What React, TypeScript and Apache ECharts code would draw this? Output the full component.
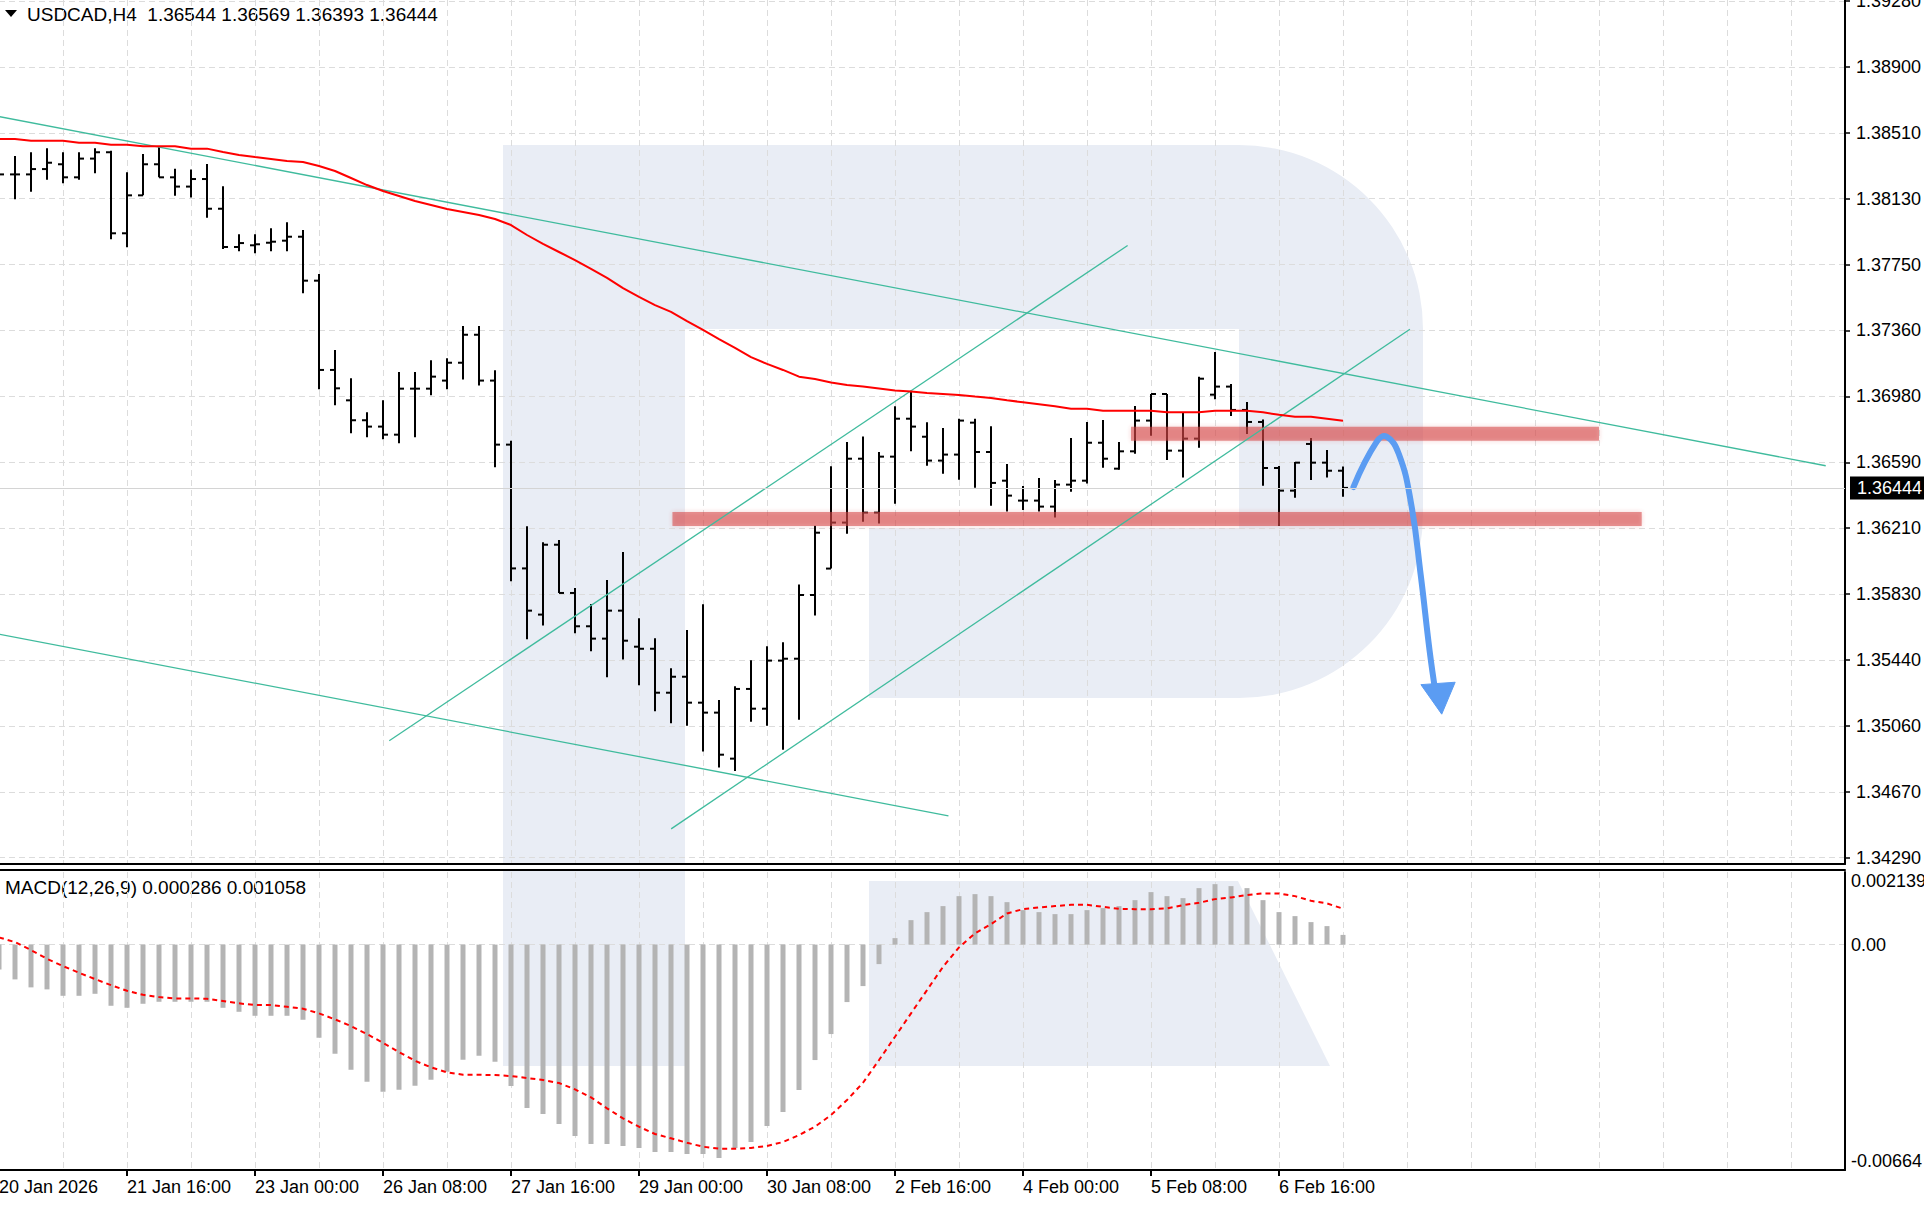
import React, { useEffect, useRef } from 'react';
import * as echarts from 'echarts';

// ---------------- data ----------------
const SYMBOL = 'USDCAD,H4';

const OPEN = [
  1.38300, 1.38270, 1.38270, 1.38301, 1.38329, 1.38253, 1.38362, 1.38399, 1.37927, 1.38148,
  1.38329, 1.38253, 1.38199, 1.38243, 1.38070, 1.37847, 1.37857, 1.37872, 1.37884, 1.37907,
  1.37651, 1.37131, 1.36954, 1.36838, 1.36801, 1.36754, 1.37022, 1.37022, 1.37069, 1.37173,
  1.37336, 1.37069, 1.36696, 1.35975, 1.35706, 1.36113, 1.35832, 1.35638, 1.35566, 1.35729,
  1.35519, 1.35507, 1.35251, 1.35344, 1.35193, 1.35135, 1.34867, 1.35273, 1.35158, 1.35438,
  1.35449, 1.35820, 1.35974, 1.36242, 1.36614, 1.36300, 1.36626, 1.36847, 1.36742, 1.36603,
  1.36638, 1.36824, 1.36653, 1.36486, 1.36370, 1.36370, 1.36335, 1.36463, 1.36486, 1.36707,
  1.36556, 1.36657, 1.36836, 1.36991, 1.36661, 1.36731, 1.36987, 1.37034, 1.36898, 1.36828,
  1.36560, 1.36428, 1.36700, 1.36591, 1.36544,
];
const HIGH = [
  1.38340, 1.38377, 1.38399, 1.38422, 1.38399, 1.38399, 1.38422, 1.38408, 1.38282, 1.38389,
  1.38432, 1.38303, 1.38298, 1.38331, 1.38201, 1.37921, 1.37921, 1.37956, 1.37991, 1.37946,
  1.37690, 1.37247, 1.37082, 1.36884, 1.36954, 1.37119, 1.37119, 1.37187, 1.37199, 1.37387,
  1.37387, 1.37129, 1.36719, 1.36220, 1.36127, 1.36141, 1.35861, 1.35768, 1.35908, 1.36071,
  1.35684, 1.35568, 1.35393, 1.35616, 1.35766, 1.35209, 1.35288, 1.35440, 1.35521, 1.35545,
  1.35882, 1.36224, 1.36570, 1.36711, 1.36744, 1.36653, 1.36919, 1.37010, 1.36826, 1.36793,
  1.36847, 1.36847, 1.36803, 1.36583, 1.36455, 1.36502, 1.36490, 1.36735, 1.36828, 1.36839,
  1.36711, 1.36921, 1.36991, 1.36991, 1.36886, 1.37092, 1.37236, 1.37049, 1.36944, 1.36843,
  1.36572, 1.36595, 1.36735, 1.36665, 1.36569,
];
const LOW = [
  1.38240, 1.38125, 1.38169, 1.38239, 1.38218, 1.38239, 1.38276, 1.37892, 1.37845, 1.38148,
  1.38253, 1.38146, 1.38136, 1.38018, 1.37835, 1.37822, 1.37810, 1.37822, 1.37822, 1.37577,
  1.37018, 1.36925, 1.36762, 1.36739, 1.36727, 1.36704, 1.36739, 1.36983, 1.37018, 1.37076,
  1.37041, 1.36564, 1.35900, 1.35562, 1.35643, 1.35832, 1.35597, 1.35492, 1.35341, 1.35445,
  1.35294, 1.35143, 1.35073, 1.35059, 1.34908, 1.34816, 1.34795, 1.35082, 1.35059, 1.34919,
  1.35094, 1.35700, 1.35974, 1.36177, 1.36247, 1.36236, 1.36352, 1.36657, 1.36573, 1.36527,
  1.36492, 1.36445, 1.36340, 1.36306, 1.36315, 1.36306, 1.36271, 1.36422, 1.36469, 1.36562,
  1.36550, 1.36643, 1.36748, 1.36606, 1.36504, 1.36678, 1.36960, 1.36863, 1.36758, 1.36457,
  1.36222, 1.36387, 1.36490, 1.36504, 1.36393,
];
const CLOSE = [
  1.38270, 1.38270, 1.38301, 1.38338, 1.38253, 1.38362, 1.38399, 1.37927, 1.38148, 1.38329,
  1.38253, 1.38199, 1.38243, 1.38070, 1.37847, 1.37870, 1.37863, 1.37878, 1.37907, 1.37651,
  1.37131, 1.37024, 1.36838, 1.36801, 1.36754, 1.37022, 1.37022, 1.37092, 1.37173, 1.37336,
  1.37069, 1.36696, 1.35975, 1.35729, 1.36113, 1.35832, 1.35638, 1.35566, 1.35729, 1.35554,
  1.35507, 1.35251, 1.35344, 1.35193, 1.35135, 1.34890, 1.35273, 1.35158, 1.35438, 1.35449,
  1.35820, 1.36183, 1.36242, 1.36614, 1.36300, 1.36626, 1.36847, 1.36801, 1.36603, 1.36638,
  1.36836, 1.36653, 1.36473, 1.36399, 1.36370, 1.36335, 1.36463, 1.36486, 1.36707, 1.36614,
  1.36657, 1.36836, 1.36991, 1.36661, 1.36731, 1.37080, 1.37034, 1.36898, 1.36828, 1.36560,
  1.36428, 1.36591, 1.36591, 1.36544, 1.36444,
];
const MA = [
  1.38476, 1.38476, 1.38466, 1.38466, 1.38466, 1.38455, 1.38455, 1.38443, 1.38443, 1.38434,
  1.38434, 1.38434, 1.38420, 1.38420, 1.38400, 1.38383, 1.38371, 1.38360, 1.38348, 1.38342,
  1.38319, 1.38290, 1.38249, 1.38208, 1.38173, 1.38144, 1.38115, 1.38092, 1.38068, 1.38051,
  1.38034, 1.38010, 1.37975, 1.37917, 1.37865, 1.37818, 1.37771, 1.37719, 1.37667, 1.37608,
  1.37556, 1.37509, 1.37469, 1.37416, 1.37364, 1.37311, 1.37259, 1.37206, 1.37166, 1.37131,
  1.37092, 1.37078, 1.37058, 1.37043, 1.37035, 1.37023, 1.37011, 1.37005, 1.36997, 1.36991,
  1.36985, 1.36976, 1.36968, 1.36954, 1.36943, 1.36931, 1.36919, 1.36905, 1.36905, 1.36894,
  1.36894, 1.36894, 1.36894, 1.36884, 1.36884, 1.36884, 1.36894, 1.36894, 1.36894, 1.36884,
  1.36870, 1.36859, 1.36859, 1.36847, 1.36835,
];
const MACD_MAIN = [
  -0.000730, -0.001025, -0.001260, -0.001319, -0.001508, -0.001508, -0.001449, -0.001802, -0.001861, -0.001743,
  -0.001684, -0.001684, -0.001684, -0.001684, -0.001861, -0.001979, -0.002097, -0.002097, -0.002097, -0.002214,
  -0.002744, -0.003215, -0.003687, -0.004040, -0.004334, -0.004276, -0.004158, -0.003981, -0.003746, -0.003392,
  -0.003274, -0.003451, -0.004167, -0.004814, -0.004991, -0.005286, -0.005639, -0.005874, -0.005874, -0.005933,
  -0.005992, -0.006110, -0.006110, -0.006169, -0.006169, -0.006287, -0.005992, -0.005816, -0.005344, -0.004932,
  -0.004284, -0.003401, -0.002635, -0.001693, -0.001222, -0.000574, 0.000191, 0.000721, 0.000957, 0.001134,
  0.001428, 0.001487, 0.001428, 0.001251, 0.001016, 0.000957, 0.000898, 0.000898, 0.001016, 0.001075,
  0.001134, 0.001310, 0.001546, 0.001428, 0.001369, 0.001664, 0.001781, 0.001723, 0.001664, 0.001310,
  0.000957, 0.000839, 0.000663, 0.000545, 0.000286,
];
const MACD_SIGNAL = [
  0.000212, 0.000074, -0.000162, -0.000418, -0.000633, -0.000830, -0.001016, -0.001193, -0.001360, -0.001478,
  -0.001546, -0.001584, -0.001584, -0.001596, -0.001664, -0.001731, -0.001781, -0.001781, -0.001832, -0.001890,
  -0.002026, -0.002203, -0.002400, -0.002635, -0.002892, -0.003165, -0.003422, -0.003616, -0.003763, -0.003834,
  -0.003834, -0.003843, -0.003872, -0.003931, -0.003990, -0.004078, -0.004264, -0.004499, -0.004823, -0.005118,
  -0.005365, -0.005580, -0.005707, -0.005836, -0.005954, -0.006013, -0.006013, -0.005992, -0.005933, -0.005816,
  -0.005610, -0.005365, -0.005021, -0.004579, -0.004069, -0.003401, -0.002715, -0.002026, -0.001340, -0.000654,
  -0.000082, 0.000330, 0.000604, 0.000919, 0.001045, 0.001095, 0.001134, 0.001172, 0.001172, 0.001113,
  0.001054, 0.001045, 0.001045, 0.001066, 0.001163, 0.001231, 0.001340, 0.001390, 0.001458, 0.001508,
  0.001508, 0.001428, 0.001290, 0.001213, 0.001058,
];

const PRICE_LABELS = [
  1.34290, 1.34670, 1.35060, 1.35440, 1.35830, 1.36210, 1.36590,
  1.36980, 1.37360, 1.37750, 1.38130, 1.38510, 1.38900, 1.39280,
];
const MACD_LABELS = [-0.00664, 0, 0.002139];
const TIME_LABELS = [
  '20 Jan 2026', '21 Jan 16:00', '23 Jan 00:00', '26 Jan 08:00', '27 Jan 16:00', '29 Jan 00:00',
  '30 Jan 08:00', '2 Feb 16:00', '4 Feb 00:00', '5 Feb 08:00', '6 Feb 16:00',
];
const TIME_LABEL_STEP = 8; // bars between time labels

// trend lines: [barFrom, priceFrom, barTo, priceTo]
const TREND_LINES = [
  [0, 1.38607, 114.17, 1.36573],
  [0, 1.35592, 59.34, 1.34534],
  [24.39, 1.34971, 70.54, 1.37856],
  [42.01, 1.34458, 88.18, 1.37368],
];
// zones: [barFrom, barTo, priceTop, priceBottom]
const ZONES = [
  [70.75, 100.0, 1.36800, 1.36719],
  [42.09, 102.67, 1.36304, 1.36222],
];
// forecast arrow (bar, price)
const ARROW_PATH = [
  [84.65, 1.36449], [86.11, 1.36713], [86.72, 1.36742], [87.49, 1.36641],
  [88.25, 1.36356], [88.87, 1.35927], [89.41, 1.35498], [89.79, 1.35248],
];
const ARROW_HEAD = [[88.87, 1.35298], [91.01, 1.35312], [90.17, 1.35126]];

// ---------------- layout / style ----------------
const FONT = '"Liberation Sans", Arial, sans-serif';
const GRID_COLOR = '#dcdcdc';
const TEAL = '#3fbb9d';
const X_MIN = 0;
const X_MAX = 115.375;
const PRICE_MIN = 1.342533;
const PRICE_MAX = 1.392858;
const MACD_MIN = -0.00664;
const MACD_MAX = 0.002139;

const PRICE_STEP = (PRICE_LABELS[PRICE_LABELS.length - 1] - PRICE_LABELS[0]) / (PRICE_LABELS.length - 1);
const PRICE_TICK_POS = PRICE_LABELS.map((_, k) => PRICE_LABELS[0] + k * PRICE_STEP);
const TIME_TICK_POS = TIME_LABELS.map((_, j) => j * TIME_LABEL_STEP);

const LOGO_D =
  'M503 145 H1239 A184 184 0 0 1 1423 329 V514 A184 184 0 0 1 1239 698 H869 V528 H1239 V329 H685 V864 H503 Z';
echarts.graphic.registerShape('rfLogoTop', echarts.graphic.extendPath(LOGO_D, {}));

function buildOption() {
  const last = OPEN.length - 1;
  const header = `${SYMBOL}  ${OPEN[last].toFixed(5)} ${HIGH[last].toFixed(5)} ${LOW[last].toFixed(5)} ${CLOSE[last].toFixed(5)}`;
  const macdHeader = `MACD(12,26,9) ${MACD_MAIN[last].toFixed(6)} ${MACD_SIGNAL[last].toFixed(6)}`;
  const ohlc = OPEN.map((o, i) => [i, o, HIGH[i], LOW[i], CLOSE[i]]);
  const wm = '#e9edf5';

  const axisLineBlack = { show: true, onZero: false, lineStyle: { color: '#000', width: 2 } };
  const noLine = { show: false, onZero: false };
  const dashed = { show: true, lineStyle: { color: GRID_COLOR, type: [6, 4], width: 1 } };

  return {
    animation: false,
    backgroundColor: '#ffffff',
    textStyle: { fontFamily: FONT },
    grid: [
      { left: -1, top: 0, width: 1846, height: 864, containLabel: false, outerBoundsMode: 'none' },
      { left: -1, top: 872, width: 1846, height: 298, containLabel: false, outerBoundsMode: 'none' },
    ],
    xAxis: [
      {
        type: 'value', gridIndex: 0, min: X_MIN, max: X_MAX, interval: 4, position: 'bottom',
        axisLine: axisLineBlack, axisTick: { show: false }, axisLabel: { show: false }, splitLine: dashed,
      },
      {
        type: 'value', gridIndex: 1, min: X_MIN, max: X_MAX, interval: 4, position: 'bottom',
        axisLine: axisLineBlack, axisTick: { show: false }, axisLabel: { show: false }, splitLine: dashed,
      },
      {
        type: 'value', gridIndex: 1, min: X_MIN, max: X_MAX, position: 'bottom',
        axisLine: noLine, splitLine: { show: false },
        axisTick: { show: true, customValues: TIME_TICK_POS, length: 6, lineStyle: { color: '#000', width: 2 } },
        axisLabel: {
          show: true, customValues: TIME_TICK_POS, align: 'left', margin: 8, color: '#000',
          fontSize: 18, fontFamily: FONT, hideOverlap: false, showMinLabel: true,
          formatter: (v: number) => TIME_LABELS[Math.round(v / TIME_LABEL_STEP)] ?? '',
        },
      },
      {
        type: 'value', gridIndex: 1, min: X_MIN, max: X_MAX, position: 'top', offset: 2,
        axisLine: axisLineBlack, axisTick: { show: false }, axisLabel: { show: false }, splitLine: { show: false },
      },
    ],
    yAxis: [
      {
        type: 'value', gridIndex: 0, position: 'right', min: PRICE_MIN, max: PRICE_MAX, scale: true,
        axisLine: axisLineBlack,
        axisTick: { show: true, customValues: PRICE_TICK_POS, length: 5, inside: false, lineStyle: { color: '#000', width: 1.5 } },
        axisLabel: {
          show: true, customValues: PRICE_TICK_POS, margin: 11, color: '#000', fontSize: 18, fontFamily: FONT,
          hideOverlap: false,
          formatter: (v: number) => {
            const k = Math.round((v - PRICE_LABELS[0]) / PRICE_STEP);
            return PRICE_LABELS[k] !== undefined ? PRICE_LABELS[k].toFixed(5) : '';
          },
        },
        splitLine: dashed,
      },
      {
        type: 'value', gridIndex: 1, position: 'right', min: MACD_MIN, max: MACD_MAX,
        axisLine: axisLineBlack,
        axisTick: { show: false, customValues: [0] },
        axisLabel: {
          show: true, customValues: MACD_LABELS, margin: 6, color: '#000', fontSize: 18, fontFamily: FONT,
          hideOverlap: false, verticalAlignMinLabel: 'bottom', verticalAlignMaxLabel: 'top',
          formatter: (v: number) => (v === 0 ? '0.00' : String(v)),
        },
        splitLine: dashed,
      },
    ],
    graphic: [
      { type: 'rfLogoTop', x: 0, y: 0, z: -1, silent: true, style: { fill: wm } },
      { type: 'rect', z: -1, silent: true, shape: { x: 503, y: 870, width: 182, height: 196 }, style: { fill: wm } },
      {
        type: 'polygon', z: -1, silent: true,
        shape: { points: [[869, 881], [1238, 881], [1330, 1066], [869, 1066]] }, style: { fill: wm },
      },
      { type: 'polygon', shape: { points: [[5, 10], [17, 10], [11, 17]] }, style: { fill: '#000' } },
      {
        type: 'text', x: 27, y: 14,
        style: { text: header, fill: '#000', font: `19px ${FONT}`, align: 'left', verticalAlign: 'middle' },
      },
      {
        type: 'text', x: 5, y: 887,
        style: { text: macdHeader, fill: '#000', font: `19px ${FONT}`, align: 'left', verticalAlign: 'middle' },
      },
    ],
    series: [
      {
        name: 'bars', type: 'custom', xAxisIndex: 0, yAxisIndex: 0, data: ohlc,
        encode: { x: 0, y: [1, 2, 3, 4] },
        renderItem: (params: any, api: any) => {
          const i = api.value(0);
          const pO = api.coord([i, api.value(1)]);
          const pH = api.coord([i, api.value(2)]);
          const pL = api.coord([i, api.value(3)]);
          const pC = api.coord([i, api.value(4)]);
          const x = Math.round(pO[0]);
          const st = { stroke: '#000', lineWidth: 2 };
          return {
            type: 'group',
            children: [
              { type: 'line', shape: { x1: x, y1: pH[1], x2: x, y2: pL[1] }, style: st },
              { type: 'line', shape: { x1: x - 5, y1: pO[1], x2: x, y2: pO[1] }, style: st },
              { type: 'line', shape: { x1: x, y1: pC[1], x2: x + 5, y2: pC[1] }, style: st },
            ],
          };
        },
      },
      {
        name: 'MA', type: 'line', xAxisIndex: 0, yAxisIndex: 0,
        data: MA.map((v, i) => [i, v]), showSymbol: false, symbol: 'none',
        lineStyle: { color: '#ff0000', width: 2 },
        markLine: {
          silent: true, symbol: 'none', precision: 5,
          lineStyle: { color: '#d4d4d4', width: 1, type: 'solid' },
          label: {
            show: true, position: 'end', distance: 5, formatter: () => CLOSE[last].toFixed(5),
            color: '#fff', backgroundColor: '#000', padding: [3, 10, 2, 7], fontSize: 18, fontFamily: FONT,
          },
          data: [{ yAxis: CLOSE[last] }],
        },
      },
      {
        name: 'zones', type: 'custom', xAxisIndex: 0, yAxisIndex: 0, data: ZONES,
        encode: { x: [0, 1], y: [2, 3] },
        renderItem: (params: any, api: any) => {
          const a = api.coord([api.value(0), api.value(2)]);
          const b = api.coord([api.value(1), api.value(3)]);
          return {
            type: 'rect',
            shape: { x: a[0], y: a[1], width: b[0] - a[0], height: b[1] - a[1] },
            style: { fill: 'rgba(214,70,70,0.55)', shadowBlur: 4, shadowColor: 'rgba(214,70,70,0.45)' },
          };
        },
      },
      {
        name: 'trend', type: 'custom', xAxisIndex: 0, yAxisIndex: 0, data: TREND_LINES,
        encode: { x: [0, 2], y: [1, 3] },
        renderItem: (params: any, api: any) => {
          const a = api.coord([api.value(0), api.value(1)]);
          const b = api.coord([api.value(2), api.value(3)]);
          return {
            type: 'line',
            shape: { x1: a[0], y1: a[1], x2: b[0], y2: b[1] },
            style: { stroke: TEAL, lineWidth: 1.3 },
          };
        },
      },
      {
        name: 'arrow', type: 'custom', xAxisIndex: 0, yAxisIndex: 0, data: [[ARROW_PATH[0][0], ARROW_PATH[0][1]]],
        encode: { x: 0, y: 1 },
        renderItem: (params: any, api: any) => {
          const pts = ARROW_PATH.map((p) => api.coord(p));
          const head = ARROW_HEAD.map((p) => api.coord(p));
          return {
            type: 'group',
            children: [
              {
                type: 'polyline', shape: { points: pts, smooth: 0.45 },
                style: { stroke: '#5b9cf2', lineWidth: 6, fill: 'none', lineCap: 'round', lineJoin: 'round' },
              },
              { type: 'polygon', shape: { points: head }, style: { fill: '#5b9cf2', stroke: '#5b9cf2', lineWidth: 1 } },
            ],
          };
        },
      },
      {
        name: 'MACD', type: 'bar', xAxisIndex: 1, yAxisIndex: 1,
        data: MACD_MAIN.map((v, i) => [i, v]), barWidth: 5,
        itemStyle: { color: '#b4b4b4' },
      },
      {
        name: 'Signal', type: 'line', xAxisIndex: 1, yAxisIndex: 1,
        data: MACD_SIGNAL.map((v, i) => [i, v]), showSymbol: false, symbol: 'none',
        lineStyle: { color: '#ff0000', width: 2, type: [5, 4] },
      },
    ],
  };
}

export default function App() {
  const ref = useRef<HTMLDivElement>(null);
  useEffect(() => {
    if (!ref.current) return;
    const chart = echarts.init(ref.current, null, { renderer: 'svg' });
    chart.setOption(buildOption() as any);
    return () => chart.dispose();
  }, []);
  return (
    <div
      ref={ref}
      style={{ position: 'fixed', left: 0, top: 0, width: 1924, height: 1212, background: '#ffffff' }}
    />
  );
}
